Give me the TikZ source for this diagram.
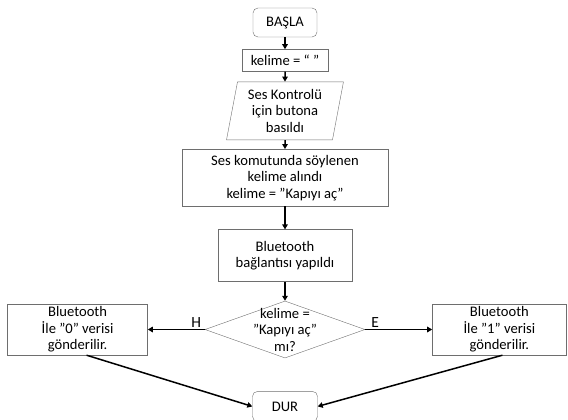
\documentclass[tikz,border=0pt]{standalone}
\usepackage{fontspec}
\setmainfont{Carlito}
\usetikzlibrary{arrows.meta,positioning,shapes.geometric}

\definecolor{boxgray}{RGB}{110,110,110}

\tikzset{
  box/.style={draw=boxgray,rectangle,align=center,inner sep=2pt},
  term/.style={box,rounded corners=5pt},
  io/.style={draw=boxgray,trapezium,trapezium left angle=79,trapezium right angle=101,
    trapezium stretches=true,align=center,inner sep=1pt},
  decision/.style={draw=boxgray,diamond,inner sep=0pt},
  flow/.style={-{Triangle[length=5pt,width=5.5pt]},line width=1.5pt},
  branch/.style={font=\fontsize{15.5}{18}\selectfont,inner sep=1pt}
}

\begin{document}
\begin{tikzpicture}[x=1pt,y=-1pt,font=\fontsize{14.6}{16.5}\selectfont]
      \useasboundingbox (0,0) rectangle (568,420);

      \node[term,minimum width=64pt,minimum height=29pt] (start) at (285,22.5) {BAŞLA};
      \node[box,below=12pt of start,minimum width=86pt,minimum height=22pt] (init) {kelime = “ ”};
      \node[io,below=10pt of init,minimum width=118pt,minimum height=58pt] (press) {Ses Kontrolü\\için butona\\basıldı};
      \node[box,below=9pt of press,minimum width=206pt,minimum height=57pt] (listen) {Ses komutunda söylenen\\kelime alındı\\kelime = ”Kapıyı aç”};
      \node[box,below=23pt of listen,minimum width=134pt,minimum height=52pt] (connect) {Bluetooth\\bağlantısı yapıldı};

      \node[decision,below=19pt of connect,minimum width=160pt,minimum height=57pt] (check) {};
      \node[align=center,inner sep=0pt] (checktext) at (check) {kelime =\\”Kapıyı aç”\\mı?};

      \node[box,left=57pt of check,minimum width=140pt,minimum height=51pt] (send0) {Bluetooth\\İle ”0” verisi\\gönderilir.};
      \node[box,right=67pt of check,minimum width=134pt,minimum height=51pt] (send1) {Bluetooth\\İle ”1” verisi\\gönderilir.};

      \node[term,below=33pt of check,minimum width=65pt,minimum height=30pt] (stop) {DUR};

      \draw[flow] (start)--(init);
      \draw[flow] (init)--(press);
      \draw[flow] (press)--(listen);
      \draw[flow] (listen)--(connect);
      \draw[flow] (connect)--(check);

      \draw[flow] (check.west)--(send0.east) node[branch,pos=0.15,above] {H};
      \draw[flow] (check.east)--(send1.west) node[branch,pos=0.15,above] {E};

      \draw[flow] ([xshift=9pt]send0.south)--(stop.west);
      \draw[flow] ([xshift=3pt]send1.south)--(stop.east);

\end{tikzpicture}
\end{document}
